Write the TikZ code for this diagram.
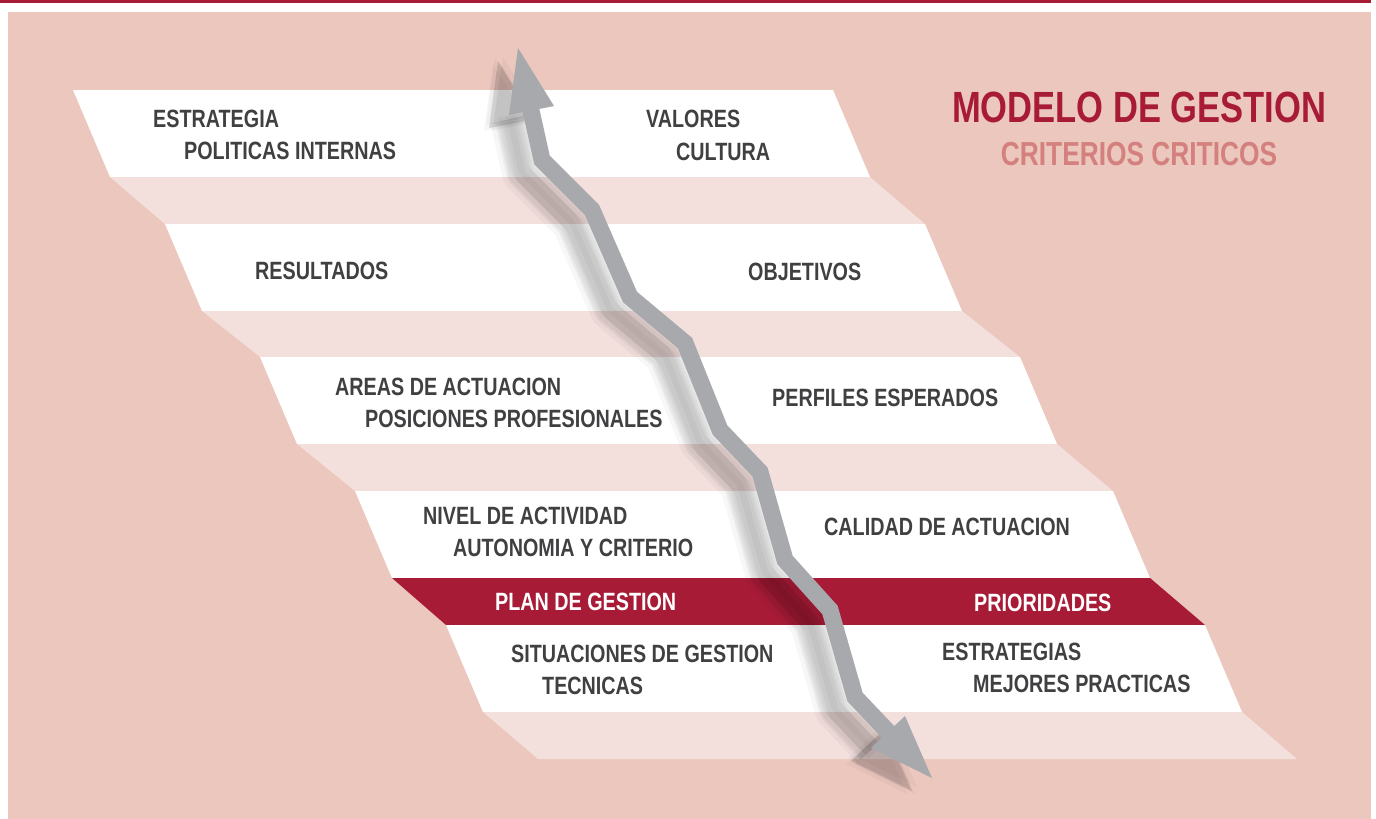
\documentclass[tikz,border=0pt]{standalone}
\usepackage{fontspec}
\setmainfont{Liberation Sans}[FakeStretch=0.79]
\usepackage{tikz}
\definecolor{rosebg}{RGB}{235,199,190}
\definecolor{rosepale}{RGB}{243,224,221}
\definecolor{wine}{RGB}{168,27,55}
\definecolor{winelight}{RGB}{212,128,126}
\definecolor{arrowgray}{RGB}{167,169,172}
\definecolor{textgray}{RGB}{64,64,66}
\tikzset{%
    rowtext/.style={anchor=west, inner sep=0pt, text=textgray,
        font=\fontsize{25}{30}\selectfont\bfseries},
    redrowtext/.style={rowtext, text=white},
    titletext/.style={inner sep=0pt, text=wine,
        font=\fontsize{43.7}{50}\selectfont\bfseries},
    subtitletext/.style={inner sep=0pt, text=winelight,
        font=\fontsize{33.3}{40}\selectfont\bfseries}
}

\begin{document}
\begin{tikzpicture}[x=1pt,y=-1pt]
    \def\arrowshaft{(530,106) -- (542,160) -- (592,210) -- (630,297) -- (685,343) -- (720,430) -- (760,472) -- (785,560) -- (830,610) -- (855,697) -- (892,736)};
    \def\headup{(518,48) -- (554,106) -- (509,115) -- cycle};
    \def\headdown{(932,778) -- (871,748) -- (905,716) -- cycle};
\useasboundingbox (0,0) rectangle (1376,819);
\fill[white] (0,0) rectangle (1376,819);
\fill[wine] (0,0) rectangle (1371,3);
\fill[rosebg] (8,12) rectangle (1371,819);
% bands
\fill[white] (73,90) -- (833,90) -- (870,177) -- (110,177) -- cycle;
\fill[rosepale] (110,177) -- (870,177) -- (925,224) -- (165,224) -- cycle;
\fill[white] (165,224) -- (925,224) -- (962,311) -- (202,311) -- cycle;
\fill[rosepale] (202,311) -- (962,311) -- (1020,357) -- (260,357) -- cycle;
\fill[white] (260,357) -- (1020,357) -- (1057,444) -- (297,444) -- cycle;
\fill[rosepale] (297,444) -- (1057,444) -- (1113,491) -- (355,491) -- cycle;
\fill[white] (355,491) -- (1113,491) -- (1150,578) -- (392,578) -- cycle;
\fill[wine] (392,578) -- (1150,578) -- (1205,625) -- (446,625) -- cycle;
\fill[white] (446,625) -- (1205,625) -- (1242,712) -- (483,712) -- cycle;
\fill[rosepale] (483,712) -- (1242,712) -- (1297,759) -- (538,759) -- cycle;
% shadow of the arrow
\foreach \sx/\sy/\w in {-20/13/40, -20/13/32, -20/13/26, -15/9/18, -25/16/18, -17/16/18, -23/10/18, -20/13/18}{
    \begin{scope}[shift={(\sx,\sy)}, opacity=0.03, black]
    \draw[line width=\w pt, line join=round] \arrowshaft;
    \fill \headup;
    \fill \headdown;
    \end{scope}
}
% arrow
\draw[arrowgray, line width=17pt, line join=miter] \arrowshaft;
\fill[arrowgray] \headup;
\fill[arrowgray] \headdown;
% texts
\node[rowtext] (estrategia) at (153,119) {ESTRATEGIA};
\node[rowtext] (politicas) at (184,151) {POLITICAS INTERNAS};
\node[rowtext] (valores) at (646,119) {VALORES};
\node[rowtext] (cultura) at (676,152) {CULTURA};
\node[rowtext] (resultados) at (255,271) {RESULTADOS};
\node[rowtext] (objetivos) at (748,272) {OBJETIVOS};
\node[rowtext] (areas) at (335,387) {AREAS DE ACTUACION};
\node[rowtext] (posiciones) at (365,419) {POSICIONES PROFESIONALES};
\node[rowtext] (perfiles) at (772,398) {PERFILES ESPERADOS};
\node[rowtext] (nivel) at (423,516) {NIVEL DE ACTIVIDAD};
\node[rowtext] (autonomia) at (453,548) {AUTONOMIA Y CRITERIO};
\node[rowtext] (calidad) at (824,527) {CALIDAD DE ACTUACION};
\node[redrowtext] (plan) at (495,602) {PLAN DE GESTION};
\node[redrowtext] (prioridades) at (974,603) {PRIORIDADES};
\node[rowtext] (situaciones) at (511,654) {SITUACIONES DE GESTION};
\node[rowtext] (tecnicas) at (542,686) {TECNICAS};
\node[rowtext] (estrategias) at (942,652) {ESTRATEGIAS};
\node[rowtext] (mejores) at (973,684) {MEJORES PRACTICAS};
\node[titletext] (modelo) at (1139,107) {MODELO DE GESTION};
\node[subtitletext] (criterios) at (1139,154) {CRITERIOS CRITICOS};
\end{tikzpicture}
\end{document}
